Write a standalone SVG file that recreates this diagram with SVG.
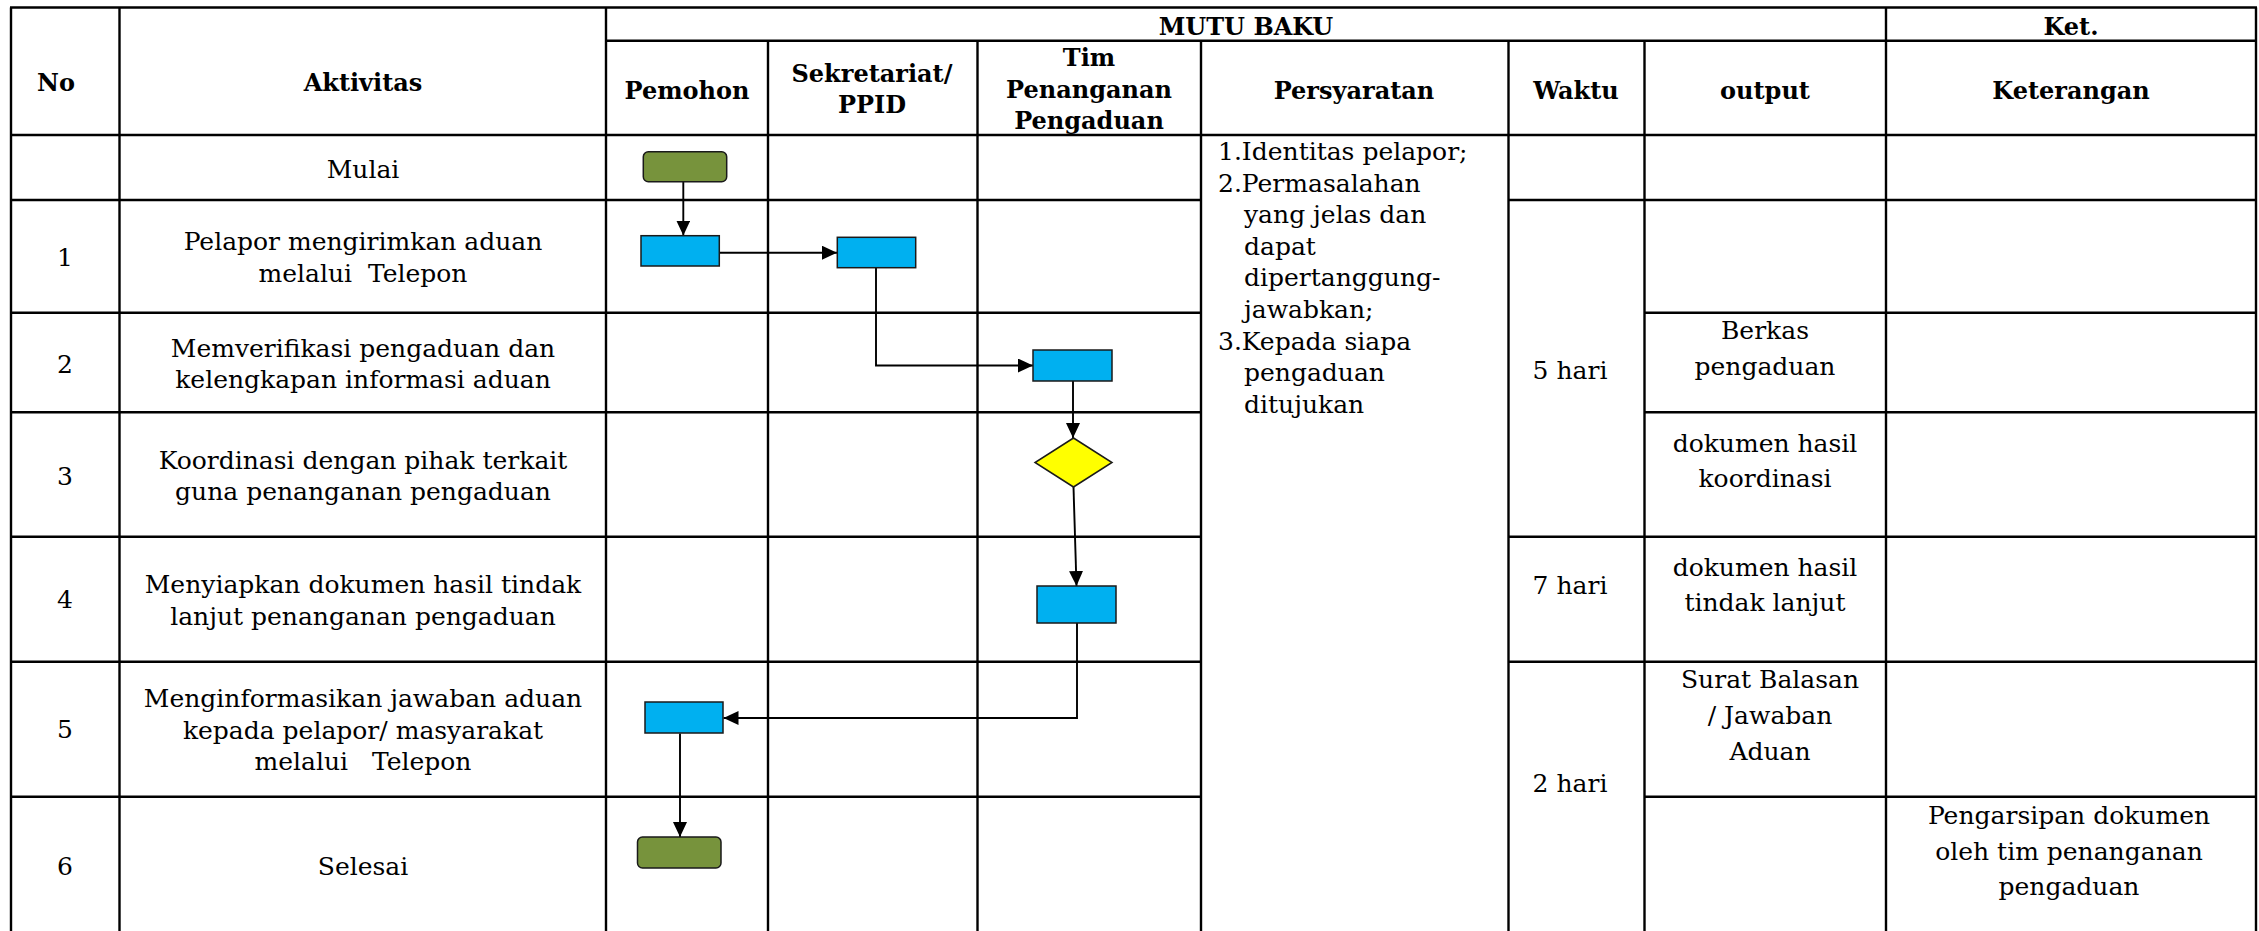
<svg xmlns="http://www.w3.org/2000/svg" width="2259" height="931" viewBox="0 0 2259 931">
<style>
.grid{stroke:#000;stroke-width:2.4;fill:none}
.h{font-family:"DejaVu Serif","Liberation Serif",serif;font-weight:bold;font-size:24px;fill:#000;text-anchor:middle}
.t{font-family:"DejaVu Serif","Liberation Serif",serif;font-size:25px;fill:#000;text-anchor:middle}
.ts{font-family:"DejaVu Serif","Liberation Serif",serif;font-size:25px;fill:#000}
.proc{fill:#00B0F0;stroke:#1a1a1a;stroke-width:1.5}
.term{fill:#77933C;stroke:#1a1a1a;stroke-width:1.5}
.dec{fill:#FFFF00;stroke:#1a1a1a;stroke-width:1.5}
.conn{stroke:#000;stroke-width:1.9;fill:none;marker-end:url(#arr)}
</style>
<defs>
<marker id="arr" markerUnits="userSpaceOnUse" markerWidth="16" markerHeight="15" refX="15" refY="7" orient="auto">
<path d="M0,0 L15,7 L0,14 z" fill="#000"/>
</marker>
</defs>
<rect width="2259" height="931" fill="#fff"/>
<g id="table" class="grid">
<line x1="10" y1="7.5" x2="2257" y2="7.5"/>
<line x1="606" y1="40.7" x2="2257" y2="40.7"/>
<line x1="10" y1="135" x2="2257" y2="135"/>
<path d="M10,200 H1201 M1508.5,200 H2257"/>
<path d="M10,312.7 H1201 M1644.5,312.7 H2257"/>
<path d="M10,412.3 H1201 M1644.5,412.3 H2257"/>
<path d="M10,536.7 H1201 M1508.5,536.7 H2257"/>
<path d="M10,661.7 H1201 M1508.5,661.7 H2257"/>
<path d="M10,796.7 H1201 M1644.5,796.7 H2257"/>
<line x1="11" y1="7.5" x2="11" y2="931"/>
<line x1="119.5" y1="7.5" x2="119.5" y2="931"/>
<line x1="606" y1="7.5" x2="606" y2="931"/>
<line x1="768" y1="40.7" x2="768" y2="931"/>
<line x1="977.5" y1="40.7" x2="977.5" y2="931"/>
<line x1="1201" y1="40.7" x2="1201" y2="931"/>
<line x1="1508.5" y1="40.7" x2="1508.5" y2="931"/>
<line x1="1644.5" y1="40.7" x2="1644.5" y2="931"/>
<line x1="1886" y1="7.5" x2="1886" y2="931"/>
<line x1="2256" y1="7.5" x2="2256" y2="931"/>
</g>
<g id="headers">
<text class="h" x="56" y="91">No</text>
<text class="h" x="363" y="91">Aktivitas</text>
<text class="h" x="1246" y="35">MUTU BAKU</text>
<text class="h" x="2071" y="35">Ket.</text>
<text class="h" x="687" y="99">Pemohon</text>
<text class="h" x="872" y="82">Sekretariat/</text>
<text class="h" x="872" y="113">PPID</text>
<text class="h" x="1089" y="66">Tim</text>
<text class="h" x="1089" y="97.5">Penanganan</text>
<text class="h" x="1089" y="129">Pengaduan</text>
<text class="h" x="1354" y="99">Persyaratan</text>
<text class="h" x="1576" y="99">Waktu</text>
<text class="h" x="1765" y="99">output</text>
<text class="h" x="2071" y="99">Keterangan</text>
</g>
<g id="numbers">
<text class="t" x="65" y="266">1</text>
<text class="t" x="65" y="373">2</text>
<text class="t" x="65" y="485">3</text>
<text class="t" x="65" y="608">4</text>
<text class="t" x="65" y="738">5</text>
<text class="t" x="65" y="875">6</text>
</g>
<g id="activities">
<text class="t" x="363" y="178">Mulai</text>
<text class="t" x="363" y="250">Pelapor mengirimkan aduan</text>
<text class="t" x="363" y="281.6" xml:space="preserve">melalui  Telepon</text>
<text class="t" x="363" y="357">Memverifikasi pengaduan dan</text>
<text class="t" x="363" y="388">kelengkapan informasi aduan</text>
<text class="t" x="363" y="468.5">Koordinasi dengan pihak terkait</text>
<text class="t" x="363" y="500">guna penanganan pengaduan</text>
<text class="t" x="363" y="593">Menyiapkan dokumen hasil tindak</text>
<text class="t" x="363" y="625">lanjut penanganan pengaduan</text>
<text class="t" x="363" y="707">Menginformasikan jawaban aduan</text>
<text class="t" x="363" y="739">kepada pelapor/ masyarakat</text>
<text class="t" x="363" y="770" xml:space="preserve">melalui   Telepon</text>
<text class="t" x="363" y="875">Selesai</text>
</g>
<g id="persyaratan">
<text class="ts" x="1218" y="160">1.Identitas pelapor;</text>
<text class="ts" x="1218" y="191.6">2.Permasalahan</text>
<text class="ts" x="1244" y="223.2">yang jelas dan</text>
<text class="ts" x="1244" y="254.8">dapat</text>
<text class="ts" x="1244" y="286.4">dipertanggung-</text>
<text class="ts" x="1244" y="318">jawabkan;</text>
<text class="ts" x="1218" y="349.6">3.Kepada siapa</text>
<text class="ts" x="1244" y="381.2">pengaduan</text>
<text class="ts" x="1244" y="412.8">ditujukan</text>
</g>
<g id="waktu">
<text class="t" x="1570" y="379">5 hari</text>
<text class="t" x="1570" y="594">7 hari</text>
<text class="t" x="1570" y="791.7">2 hari</text>
</g>
<g id="output">
<text class="t" x="1765" y="339">Berkas</text>
<text class="t" x="1765" y="375">pengaduan</text>
<text class="t" x="1765" y="451.7">dokumen hasil</text>
<text class="t" x="1765" y="486.7">koordinasi</text>
<text class="t" x="1765" y="575.7">dokumen hasil</text>
<text class="t" x="1765" y="610.7">tindak lanjut</text>
<text class="t" x="1770" y="688.3">Surat Balasan</text>
<text class="t" x="1770" y="724">/ Jawaban</text>
<text class="t" x="1770" y="760">Aduan</text>
</g>
<g id="keterangan">
<text class="t" x="2069" y="824">Pengarsipan dokumen</text>
<text class="t" x="2069" y="860">oleh tim penanganan</text>
<text class="t" x="2069" y="895">pengaduan</text>
</g>
<g id="connectors">
<path class="conn" d="M683.3,182 V235.5"/>
<path class="conn" d="M719.3,252.7 H837"/>
<path class="conn" d="M876,268 V365.5 H1033"/>
<path class="conn" d="M1073,381 V438"/>
<path class="conn" d="M1073.5,487 L1076.5,586"/>
<path class="conn" d="M1077,623 V718 H723.5"/>
<path class="conn" d="M680,733.5 V837"/>
</g>
<g id="node-mulai"><rect class="term" x="643.3" y="151.7" width="83.4" height="30" rx="5"/></g>
<g id="node-p1"><rect class="proc" x="641" y="235.7" width="78.3" height="30.3"/></g>
<g id="node-s1"><rect class="proc" x="837.3" y="237.3" width="78.4" height="30.4"/></g>
<g id="node-t2"><rect class="proc" x="1033" y="350" width="79" height="31"/></g>
<g id="node-t3"><polygon class="dec" points="1073.5,438 1112,462.5 1073.5,487 1035,462.5"/></g>
<g id="node-t4"><rect class="proc" x="1037" y="586" width="79" height="37"/></g>
<g id="node-p5"><rect class="proc" x="645" y="702" width="78" height="31"/></g>
<g id="node-selesai"><rect class="term" x="637.5" y="837" width="83.5" height="31" rx="5"/></g>
</svg>
